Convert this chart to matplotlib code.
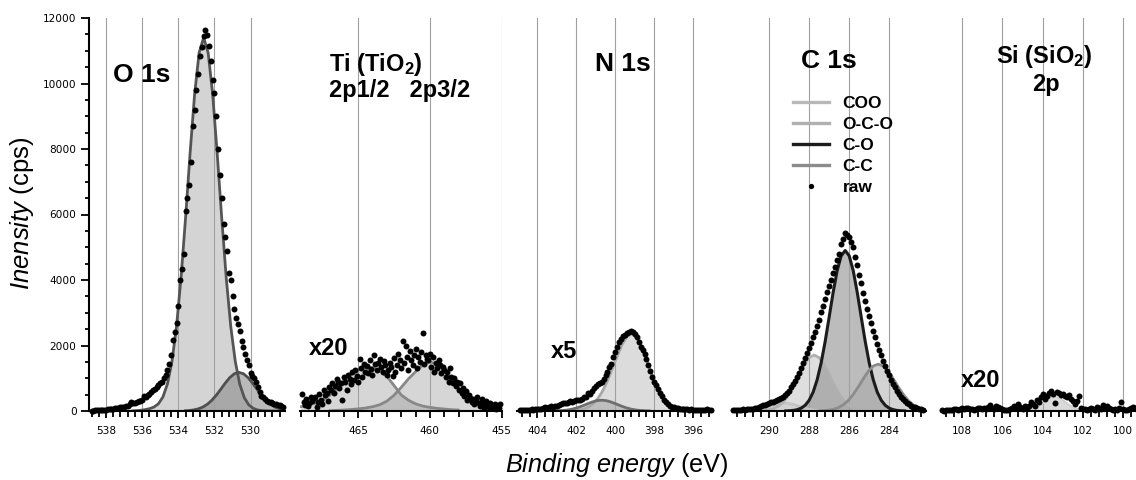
import numpy as np
import matplotlib
matplotlib.use("Agg")
import matplotlib.pyplot as plt
from matplotlib.ticker import MultipleLocator
from matplotlib.lines import Line2D

plt.rcParams["mathtext.fontset"] = "custom"
plt.rcParams["mathtext.rm"] = "Liberation Sans"
plt.rcParams["mathtext.it"] = "Liberation Sans:italic"
plt.rcParams["mathtext.bf"] = "Liberation Sans:bold"

# ---------------------------------------------------------------------------
# Data: binding energy (eV) grids given as (first energy, step), intensities in
# cps as printed (Ti and Si are x20, N is x5).
# ---------------------------------------------------------------------------

# raw spectra, 0.1 eV steps going down in energy
o1s_raw_start = 538.8
o1s_raw = [10, 15, 20, 25, 20, 30, 40, 35, 45, 50,
           60, 55, 70, 80, 90, 85, 110, 120, 130, 150,
           140, 200, 280, 250, 230, 260, 300, 320, 340, 470,
           420, 480, 520, 580, 630, 680, 720, 800, 870, 900,
           1000, 1100, 1250, 1450, 1700, 2170, 2400, 2700, 3200, 4000,
           4350, 4800, 6100, 6500, 6900, 7600, 8700, 9200, 9800, 10300,
           10850, 11100, 11450, 11620, 11480, 11150, 10700, 10100, 9700, 9000,
           8000, 7200, 6500, 5700, 5300, 4900, 4200, 4000, 3500, 3100,
           2850, 2650, 2450, 2150, 1950, 1750, 1550, 1400, 1150, 1080,
           1000, 880, 720, 580, 470, 420, 360, 320, 290, 260,
           240, 220, 200, 185, 170, 150, 120]

ti_raw_start = 468.9
ti_raw = [520, 290, 180, 380, 150, 250, 420, 310, 390, 440,
          120, 280, 520, 350, 200, 640, 480, 560, 320, 720,
          630, 850, 560, 760, 980, 900, 700, 840, 340, 1050,
          880, 640, 1100, 990, 830, 1180, 950, 1250, 1080, 900,
          1600, 1320, 1050, 1450, 1200, 1380, 1150, 1550, 1290, 1100,
          1700, 1420, 1260, 1480, 1600, 1350, 1200, 1520, 1390, 1100,
          1250, 1460, 1330, 1080, 1620, 1200, 1400, 1750, 1550, 1300,
          2150, 1480, 1980, 1650, 1250, 1820, 1550, 1400, 1700, 1900,
          1300, 1650, 1500, 1800, 2380, 1450, 1700, 1600, 1550, 1750,
          1350, 1650, 1200, 1480, 1300, 1550, 1400, 1150, 1350, 1250,
          1050, 1200, 900, 1300, 1050, 850, 1000, 750, 900, 650,
          850, 550, 700, 450, 620, 350, 500, 400, 280, 380,
          200, 300, 420, 250, 150, 380, 220, 100, 300, 200,
          120, 250, 80, 180, 220, 60, 150, 100, 200]

n1s_raw_start = 404.9
n1s_raw = [20, 30, 25, 40, 35, 30, 50, 45, 60, 55,
           70, 65, 90, 110, 100, 120, 140, 130, 160, 150,
           180, 200, 230, 250, 240, 280, 300, 290, 320, 330,
           340, 330, 380, 420, 440, 560, 520, 600, 700, 750,
           820, 860, 900, 980, 1100, 1200, 1350, 1450, 1650, 1800,
           1950, 2100, 2200, 2280, 2320, 2380, 2420, 2430, 2400, 2350,
           2250, 2120, 1950, 1850, 1750, 1580, 1400, 1230, 1050, 900,
           780, 680, 560, 450, 350, 270, 210, 160, 130, 110,
           80, 90, 70, 60, 70, 50, 60, 40, 50, 30,
           40, 20, 30, 20, 40, 30, 50, 20, 30]

c1s_raw_start = 291.8
c1s_raw = [20, 30, 25, 40, 30, 50, 40, 60, 55, 70,
           65, 90, 80, 110, 140, 170, 190, 220, 250, 270,
           280, 300, 330, 360, 400, 430, 480, 540, 610, 720,
           820, 920, 1030, 1150, 1300, 1480, 1620, 1780, 1920, 2080,
           2250, 2420, 2600, 2780, 3020, 3200, 3430, 3620, 3830, 4000,
           4200, 4400, 4620, 4800, 5100, 5250, 5420, 5380, 5300, 5150,
           5000, 4700, 4450, 4150, 3900, 3600, 3350, 3100, 2900, 2700,
           2450, 2250, 2050, 1850, 1700, 1520, 1380, 1230, 1100, 950,
           830, 720, 620, 520, 430, 360, 300, 250, 200, 160,
           130, 110, 90, 70, 60, 40]

si_raw_start = 109.0
si_raw = [20, 10, 30, 20, 40, 30, 50, 60, 40, 70,
          80, 60, 90, 100, 50, 70, 40, 60, 90, 80,
          60, 100, 50, 120, 190, 80, 60, 140, 110, 90,
          50, 30, 20, 40, 60, 100, 150, 90, 200, 120,
          70, 150, 100, 140, 280, 210, 160, 330, 260, 430,
          520, 380, 470, 560, 600, 520, 240, 590, 560, 480,
          530, 470, 420, 500, 370, 300, 220, 310, 460, 100,
          60, 50, 20, 60, 90, 70, 40, 130, 90, 60,
          180, 120, 140, 80, 60, 20, 50, 40, 90, 260,
          60, 40, 20, 50, 100, 130, 90, 50, 140]

# fitted components
o1s_main_grid = (536.6, 0.25)
o1s_main = [0, 10, 20, 40, 70, 120, 220, 430, 830, 1514, 2582, 4066, 5892,
            7866, 9665, 10940, 11400, 10940, 9665, 7866, 5892, 4066, 2582,
            1514, 815, 404, 185, 78, 30, 11, 4, 0, 0]
o1s_low_grid = (533.65, 0.25)
o1s_low = [7, 15, 33, 65, 119, 204, 325, 482, 666, 855, 1023, 1138, 1180,
           1138, 1023, 855, 666, 482, 325, 204, 119, 65, 33]

ti_2p12_grid = (469.0, 0.5)
ti_2p12 = [130, 170, 234, 330, 470, 680, 920, 1130, 1260, 1330, 1320, 1230,
           1060, 780, 490, 330, 220, 150, 110, 80, 60, 40, 30]
ti_2p32_grid = (467.0, 0.5)
ti_2p32 = [10, 20, 30, 45, 65, 90, 130, 190, 300, 480, 720, 980, 1200, 1400,
           1500, 1440, 1260, 960, 670, 440, 300, 200, 140, 100, 80]

n1s_main_grid = (403.15, 0.25)
n1s_main = [0, 0, 1, 4, 11, 25, 56, 113, 214, 376, 612, 924, 1296, 1684, 2031,
            2273, 2360, 2250, 1960, 1570, 1160, 790, 500, 290, 155, 75, 34,
            14, 5, 2, 0, 0, 0]
n1s_high_grid = (403.2, 0.25)
n1s_high = [3, 7, 15, 31, 59, 99, 153, 214, 272, 315, 330, 315, 272, 214, 153,
            99, 59, 31, 15, 7, 3]

c_coo_grid = (291.7, 0.25)
c_coo = [0, 1, 3, 9, 21, 44, 81, 130, 183, 224, 240, 224, 183, 130, 81, 44,
         21, 9, 3, 1, 0]
c_oco_grid = (290.75, 0.25)
c_oco = [2, 5, 14, 35, 79, 163, 304, 515, 793, 1110, 1411, 1630, 1710, 1630,
         1411, 1110, 793, 515, 304, 163, 79, 35, 14, 5, 2]
c_co_grid = (289.2, 0.2)
c_co = [3, 7, 17, 40, 85, 172, 325, 575, 951, 1467, 2119, 2867, 3626, 4286,
        4739, 4900, 4739, 4286, 3626, 2867, 2119, 1467, 951, 575, 325, 172,
        85, 40, 17, 7, 3]
c_cc_grid = (287.55, 0.25)
c_cc = [4, 9, 22, 49, 100, 186, 319, 505, 734, 983, 1211, 1372, 1430, 1372,
        1211, 983, 734, 505, 319, 186, 100, 49, 22]

si_grid = (105.4, 0.2)
si_fit = [1, 2, 6, 17, 41, 83, 150, 238, 331, 403, 430, 403, 331, 238, 150,
          83, 41, 17, 6, 2, 1]

legend_labels = ["COO", "O-C-O", "C-O", "C-C", "raw"]


def grid(start, step, values):
    return start - step * np.arange(len(values))


W, H = 1136, 480


def px(x, y):
    return x / W, 1 - y / H


fig = plt.figure(figsize=(W / 100, H / 100), dpi=100)

bottom, height = 1 - 411 / H, 393 / H
ax_o = fig.add_axes([89 / W, bottom, 196 / W, height])
ax_ti = fig.add_axes([300 / W, bottom, 201.7 / W, height])
ax_n = fig.add_axes([516.7 / W, bottom, 196 / W, height])
ax_c = fig.add_axes([731.7 / W, bottom, 194.3 / W, height])
ax_si = fig.add_axes([940.7 / W, bottom, 200 / W, height])


def style(ax, xlim, major, minor):
    ax.set_xlim(*xlim)
    ax.set_ylim(0, 12000)
    ax.xaxis.set_major_locator(MultipleLocator(major))
    ax.xaxis.set_minor_locator(MultipleLocator(minor))
    for s in ("top", "right", "left"):
        ax.spines[s].set_visible(False)
    ax.spines["bottom"].set_linewidth(1.5)
    ax.tick_params(axis="x", which="both", direction="out", width=1.3,
                   labelsize=7.6, pad=5.5, colors="black")
    ax.tick_params(axis="x", which="major", length=5)
    ax.tick_params(axis="x", which="minor", length=4.5)
    ax.tick_params(axis="y", which="both", left=False, labelleft=False)
    ax.grid(axis="x", which="major", color="#a0a0a0", lw=0.8)
    ax.set_axisbelow("line")
    ax.patch.set_alpha(0)


def component(ax, g, vals, line, fill, alpha=1.0, lw=2.0, z=1.0):
    e = grid(g[0], g[1], vals)
    ax.fill_between(e, 0, vals, color=fill, alpha=alpha, lw=0, zorder=z)
    ax.plot(e, vals, color=line, lw=lw, zorder=2, solid_capstyle="round")


def raw(ax, start, vals):
    ax.plot(grid(start, 0.1, vals), vals, "o", color="black", ms=4.3, mew=0,
            zorder=3, clip_on=False)


# O 1s
style(ax_o, (538.94, 528.1), 2, 0.4)
ax_o.spines["left"].set_visible(True)
ax_o.spines["left"].set_linewidth(1.5)
ax_o.yaxis.set_major_locator(MultipleLocator(2000))
ax_o.yaxis.set_minor_locator(MultipleLocator(500))
ax_o.tick_params(axis="y", which="both", left=True, labelleft=True,
                 direction="out", width=1.3, labelsize=7.6, pad=3)
ax_o.tick_params(axis="y", which="major", length=6)
ax_o.tick_params(axis="y", which="minor", length=3.2)
component(ax_o, o1s_main_grid, o1s_main, "#555555", "#d4d4d4")
component(ax_o, o1s_low_grid, o1s_low, "#505050", "#8c8c8c", alpha=0.6, z=1.1)
raw(ax_o, o1s_raw_start, o1s_raw)

# Ti 2p
style(ax_ti, (469.05, 455.0), 5, 1)
component(ax_ti, ti_2p12_grid, ti_2p12, "#888888", "#9a9a9a", alpha=0.4)
component(ax_ti, ti_2p32_grid, ti_2p32, "#888888", "#9a9a9a", alpha=0.4)
raw(ax_ti, ti_raw_start, ti_raw)

# N 1s
style(ax_n, (405.06, 395.0), 2, 0.4)
component(ax_n, n1s_main_grid, n1s_main, "#a8a8a8", "#dcdcdc")
component(ax_n, n1s_high_grid, n1s_high, "#6e6e6e", "#9a9a9a", alpha=0.45,
          z=1.1)
raw(ax_n, n1s_raw_start, n1s_raw)

# C 1s
style(ax_c, (291.86, 282.17), 2, 0.4)
component(ax_c, c_coo_grid, c_coo, "#c4c4c4", "#d0d0d0", alpha=0.6)
component(ax_c, c_oco_grid, c_oco, "#b0b0b0", "#c8c8c8", alpha=0.6)
component(ax_c, c_co_grid, c_co, "#1c1c1c", "#909090", alpha=0.6, lw=2.2)
component(ax_c, c_cc_grid, c_cc, "#8c8c8c", "#a8a8a8", alpha=0.5)
raw(ax_c, c1s_raw_start, c1s_raw)

handles = [Line2D([], [], color="#b8b8b8", lw=2.4),
           Line2D([], [], color="#b0b0b0", lw=2.4),
           Line2D([], [], color="#1c1c1c", lw=2.4),
           Line2D([], [], color="#8c8c8c", lw=2.4),
           Line2D([], [], color="black", marker="o", ls="none", ms=3.8, mew=0)]
ax_c.legend(handles, legend_labels, loc="upper left",
            bbox_to_anchor=px(793, 96), bbox_transform=fig.transFigure,
            frameon=False, borderpad=0, borderaxespad=0, handlelength=2.1,
            handletextpad=0.75, labelspacing=0.33,
            prop=dict(family="Liberation Sans", weight="bold", size=12.5))

# Si 2p
style(ax_si, (109.07, 99.12), 2, 0.4)
component(ax_si, si_grid, si_fit, "#cfcfcf", "#dadada", lw=1.5)
raw(ax_si, si_raw_start, si_raw)

# peak labels
bold = dict(family="Liberation Sans", weight="bold", va="baseline")
fig.text(*px(113, 81.7), "O 1s", ha="left", fontsize=19, **bold)
fig.text(*px(329, 71), r"Ti (TiO$_\mathbf{2}$)", ha="left", fontsize=17, **bold)
fig.text(*px(329, 97.5), "2p1/2   2p3/2", ha="left", fontsize=17, **bold)
fig.text(*px(595, 71), "N 1s", ha="left", fontsize=19, **bold)
fig.text(*px(801, 68.3), "C 1s", ha="left", fontsize=19, **bold)
fig.text(*px(1044, 63.3), r"Si (SiO$_\mathbf{2}$)", ha="center", fontsize=17,
         **bold)
fig.text(*px(1045.5, 90.7), "2p", ha="center", fontsize=17, **bold)
fig.text(*px(309, 355), "x20", ha="left", fontsize=17, **bold)
fig.text(*px(551, 358), "x5", ha="left", fontsize=17, **bold)
fig.text(*px(961, 387), "x20", ha="left", fontsize=17, **bold)

# axis titles
fig.text(*px(22.5, 213), r"$\mathit{Inensity}$ (cps)", rotation=90,
         ha="center", va="center", fontsize=18.5, family="Liberation Sans")
fig.text(*px(616.5, 465), r"$\mathit{Binding\ energy}$ (eV)", ha="center",
         va="center", fontsize=18.2, family="Liberation Sans")

fig.savefig("out.png", dpi=100)
